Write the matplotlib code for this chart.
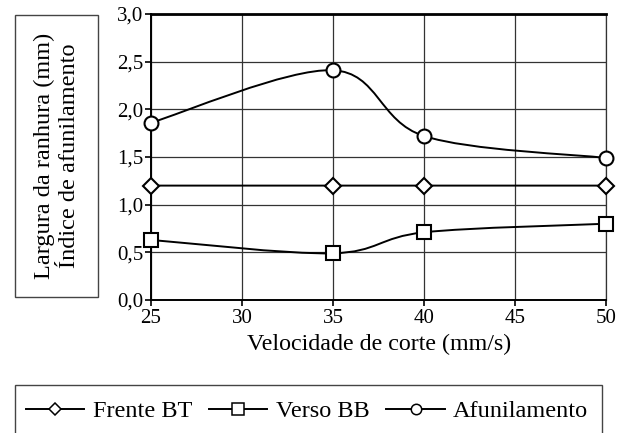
import matplotlib
matplotlib.use("Agg")
import matplotlib.pyplot as plt
from matplotlib.path import Path
from matplotlib.patches import PathPatch, Rectangle
from matplotlib.lines import Line2D
import numpy as np

plt.rcParams['font.family'] = ['Liberation Serif', 'DejaVu Serif']

velocidade = [25, 35, 40, 50]
frente_bt = [1.2, 1.2, 1.2, 1.2]
verso_bb = [0.63, 0.49, 0.71, 0.80]
afunilamento = [1.86, 2.41, 1.72, 1.49]
x_ticks = [25, 30, 35, 40, 45, 50]
y_ticks = [0.0, 0.5, 1.0, 1.5, 2.0, 2.5, 3.0]
y_ticklabels = ["0,0", "0,5", "1,0", "1,5", "2,0", "2,5", "3,0"]
series_names = ["Frente BT", "Verso BB", "Afunilamento"]
ylabel_lines = ["Largura da ranhura (mm)", "Índice de afunilamento"]
xlabel = "Velocidade de corte (mm/s)"

W, H = 626, 433
fig = plt.figure(figsize=(W / 100, H / 100), dpi=100)
ax = fig.add_axes([151 / W, 1 - 300 / H, (606 - 151) / W, (300 - 14) / H])


def smooth_path(xs, ys):
    pts = np.column_stack([xs, ys]).astype(float)
    n = len(pts)
    verts = [pts[0]]
    codes = [Path.MOVETO]
    for i in range(n - 1):
        p0 = pts[i - 1] if i > 0 else pts[i]
        p1 = pts[i]
        p2 = pts[i + 1]
        p3 = pts[i + 2] if i + 2 < n else pts[i + 1]
        c1 = p1 + (p2 - p0) / 6.0
        c2 = p2 - (p3 - p1) / 6.0
        verts += [c1, c2, p2]
        codes += [Path.CURVE4] * 3
    return Path(verts, codes)


markers = ['D', 's', 'o']
msizes = [8.5, 9.5, 10]
for ys, m, ms in zip([frente_bt, verso_bb, afunilamento], markers, msizes):
    ax.add_patch(PathPatch(smooth_path(velocidade, ys), fill=False,
                           edgecolor='black', lw=1.4, zorder=3))
    ax.plot(velocidade, ys, linestyle='none', marker=m, markersize=ms,
            markerfacecolor='white', markeredgecolor='black', markeredgewidth=1.5,
            zorder=4, clip_on=False)

ax.set_xlim(25, 50)
ax.set_ylim(0, 3.0)
ax.set_xticks(x_ticks)
ax.set_xticklabels([str(v) for v in x_ticks])
ax.set_yticks(y_ticks)
ax.set_yticklabels(y_ticklabels)
ax.grid(True, color='#333333', lw=0.9)
ax.set_axisbelow(True)
ax.tick_params(axis='both', labelsize=15, direction='out', length=4,
               width=1.2, color='black')
ax.tick_params(axis='x', pad=2.5)
ax.tick_params(axis='y', pad=1.5)
ax.spines['top'].set_linewidth(2.0)
ax.spines['left'].set_linewidth(1.4)
ax.spines['bottom'].set_linewidth(1.4)
ax.spines['right'].set_linewidth(0.9)
ax.spines['right'].set_color('#333333')

fig.text(379 / W, 1 - 344 / H, xlabel, ha='center', va='center', fontsize=17.3)

# y label box
fig.patches.append(Rectangle((15 / W, 1 - 297 / H), (98 - 15) / W, (297 - 15) / H,
                             transform=fig.transFigure, fill=False,
                             edgecolor='#444444', lw=1.0))
fig.text(57 / W, 1 - 156 / H, "\n".join(ylabel_lines), rotation=90,
         ha='center', va='center', fontsize=17.5, linespacing=1.2,
         multialignment='center')

# legend box
fig.patches.append(Rectangle((15 / W, -0.05), (602 - 15) / W, 0.05 + (433 - 385) / H,
                             transform=fig.transFigure, fill=False,
                             edgecolor='#444444', lw=1.0, clip_on=False))
handles = []
for m, ms in zip(markers, [6, 8, 7.5]):
    handles.append(Line2D([0], [0], color='black', lw=1.4, marker=m,
                          markersize=ms,
                          markerfacecolor='white', markeredgecolor='black',
                          markeredgewidth=1.1))
fig.legend(handles, series_names, loc='center', bbox_to_anchor=(307 / W, 1 - 411 / H),
           ncol=3, frameon=False, fontsize=17.5, handlelength=2.4,
           handletextpad=0.35, columnspacing=0.7, borderpad=0, borderaxespad=0)

fig.savefig("out.png", dpi=100)
